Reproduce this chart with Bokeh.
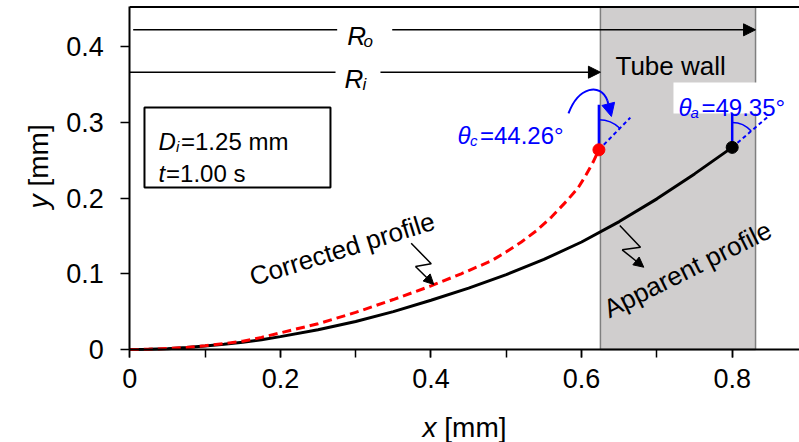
import math
from bokeh.plotting import figure
from bokeh.models import (Range1d, BoxAnnotation, Label, Arrow, NormalHead, LinearAxis,
                          SingleIntervalTicker, CustomJSTickFormatter)
from bokeh.embed import file_html
from bokeh.resources import INLINE

# ---------------- data ----------------
apparent_x = [0, 0.025, 0.05, 0.075, 0.1, 0.125, 0.15, 0.175, 0.2, 0.25, 0.3, 0.35, 0.4, 0.45,
              0.5, 0.55, 0.6, 0.65, 0.7, 0.75, 0.8]
apparent_y = [0, 0.0003, 0.0011, 0.0025, 0.0045, 0.0068, 0.0095, 0.0130, 0.0170, 0.026, 0.037,
              0.050, 0.065, 0.081, 0.099, 0.119, 0.142, 0.169, 0.199, 0.232, 0.267]

corrected_x = [0, 0.025, 0.05, 0.075, 0.1, 0.125, 0.15, 0.175, 0.2, 0.25, 0.3, 0.35, 0.4, 0.44,
               0.48, 0.50, 0.52, 0.54, 0.56, 0.58, 0.595, 0.605, 0.615, 0.623]
corrected_y = [0, 0.0003, 0.0012, 0.0027, 0.0050, 0.0078, 0.011, 0.016, 0.022, 0.034, 0.049,
               0.066, 0.084, 0.100, 0.117, 0.129, 0.142, 0.157, 0.175, 0.196, 0.213, 0.229,
               0.247, 0.2638]

wall_inner = 0.625   # R_i
wall_outer = 0.831   # R_o
contact_angles = [44.26, 49.35]          # theta_c, theta_a
angle_labels = ["=44.26°", "=49.35°"]
param_lines = ["=1.25 mm", "=1.00 s"]
x_ticks_interval = 0.2
y_ticks_interval = 0.1

FONT = "Liberation Sans"
BLUE = "#0000ff"
XMAX, YTOP = 0.8894, 0.4525

p = figure(width=799, height=442, min_border=0,
           x_range=Range1d(-0.17171, 0.88938), y_range=Range1d(-0.12285, 0.46103),
           x_axis_type=None, y_axis_type=None,
           output_backend="svg", toolbar_location=None)
p.outline_line_color = None
p.background_fill_color = "white"
p.border_fill_color = "white"

fmt = CustomJSTickFormatter(code="return Math.abs(tick) < 1e-9 ? '0' : tick.toFixed(1);")
common = dict(axis_line_width=2, axis_line_color="black", major_tick_line_color="black",
              major_tick_line_width=1.5, major_tick_in=0, major_label_text_font=FONT,
              major_label_text_font_size="27px", major_label_text_color="black",
              formatter=fmt, fixed_location=0)

xaxis = LinearAxis(ticker=SingleIntervalTicker(interval=x_ticks_interval, num_minor_ticks=2),
                   bounds=(0, XMAX), major_tick_out=8, minor_tick_out=8, minor_tick_in=0,
                   minor_tick_line_color="black", minor_tick_line_width=1.5,
                   major_label_standoff=11, **common)
p.add_layout(xaxis, "below")
yaxis = LinearAxis(ticker=SingleIntervalTicker(interval=y_ticks_interval, num_minor_ticks=0),
                   bounds=(0, YTOP), major_tick_out=9, minor_tick_line_color=None,
                   major_label_standoff=17, **common)
p.add_layout(yaxis, "left")

# top border of the plot box
p.segment([0], [YTOP], [XMAX], [YTOP], line_color="black", line_width=2)

# tube wall
p.add_layout(BoxAnnotation(left=wall_inner, right=wall_outer, bottom=0, top=YTOP,
                           fill_color="#d0cece", fill_alpha=1,
                           line_color="#7f7f7f", line_alpha=1, line_width=1.5, level="underlay"))

# profiles
p.line(apparent_x, apparent_y, line_color="black", line_width=3)
p.line(corrected_x, corrected_y, line_color="#ff0000", line_width=3, line_dash="9 5")

# contact-angle constructions
SX, SY = 753.0, 757.0   # px per data unit
ends = [(corrected_x[-1], corrected_y[-1]), (apparent_x[-1], apparent_y[-1])]
vert_len = [45, 34]
tan_len = [45, 48]
arc_r = [30, 25]
for (xe, ye), th, vl, tl, r in zip(ends, contact_angles, vert_len, tan_len, arc_r):
    p.segment([xe], [ye], [xe], [ye + vl / SY], line_color=BLUE, line_width=2.5)
    t = math.radians(th)
    p.segment([xe], [ye], [xe + tl * math.sin(t) / SX], [ye + tl * math.cos(t) / SY],
              line_color=BLUE, line_width=2, line_dash="4 3")
    p.arc(x=[xe], y=[ye], radius=r, radius_units="screen",
          start_angle=math.radians(90 - th), end_angle=math.radians(90),
          line_color=BLUE, line_width=1.5)

p.scatter([corrected_x[-1]], [corrected_y[-1]], size=12, fill_color="#ff0000", line_color="#ff0000")
p.scatter([apparent_x[-1]], [apparent_y[-1]], size=12, fill_color="black", line_color="black")


def lab(x, y, text, size, italic=False, color="black", align="left", angle=0):
    p.add_layout(Label(x=x, y=y, text=text, text_font=FONT, text_font_size=f"{size}px",
                       text_font_style="italic" if italic else "normal", text_color=color,
                       text_align=align, text_baseline="alphabetic",
                       angle=math.radians(angle)))


# R_o / R_i arrows
p.segment([0.0045], [0.4223], [0.2754], [0.4223], line_color="black", line_width=1.5)
p.add_layout(Arrow(end=NormalHead(size=12, fill_color="black", line_color="black"),
                   x_start=0.3485, y_start=0.4223, x_end=wall_outer, y_end=0.4223,
                   line_color="black", line_width=1.5))
p.segment([0.0], [0.3663], [0.2732], [0.3663], line_color="black", line_width=1.5)
p.add_layout(Arrow(end=NormalHead(size=12, fill_color="black", line_color="black"),
                   x_start=0.3329, y_start=0.3663, x_end=wall_inner, y_end=0.3663,
                   line_color="black", line_width=1.5))
lab(0.2887, 0.4135, "R", 26, italic=True)
lab(0.3104, 0.4069, "o", 17, italic=True)
lab(0.2851, 0.3567, "R", 26, italic=True)
lab(0.3090, 0.3501, "i", 17, italic=True)

lab(0.645, 0.375, "Tube wall", 26)

# parameter box
p.add_layout(BoxAnnotation(left=0.0195, right=0.2665, bottom=0.2140, top=0.3197,
                           fill_color="white", fill_alpha=1, line_color="black",
                           line_alpha=1, line_width=2))
lab(0.0381, 0.2748, "D", 24, italic=True)
lab(0.0614, 0.2682, "i", 15, italic=True)
lab(0.0680, 0.2748, param_lines[0], 24)
lab(0.0381, 0.2325, "t", 24, italic=True)
lab(0.0481, 0.2325, param_lines[1], 24)

# theta_c label + curved arrow
lab(0.4352, 0.2827, "θ", 24, italic=True, color=BLUE)
lab(0.4518, 0.2761, "c", 15, italic=True, color=BLUE)
lab(0.4650, 0.2827, angle_labels[0], 24, color=BLUE)
p.bezier(x0=[0.5826], y0=[0.3118], x1=[0.6343], y1=[0.3289],
         cx0=[0.5959], cy0=[0.3474], cx1=[0.6251], cy1=[0.3527], line_color=BLUE, line_width=2)
p.add_layout(Arrow(end=NormalHead(size=13, fill_color=BLUE, line_color=BLUE),
                   x_start=0.6343, y_start=0.3289, x_end=0.6396, y_end=0.3078,
                   line_color=BLUE, line_width=2))

# theta_a label on white box
p.add_layout(BoxAnnotation(left=0.722, right=0.8814, bottom=0.3118, top=0.3527,
                           fill_color="white", fill_alpha=1, line_color=None))
lab(0.7287, 0.3197, "θ", 24, italic=True, color=BLUE)
lab(0.7446, 0.3131, "a", 15, italic=True, color=BLUE)
lab(0.7592, 0.3197, angle_labels[1], 24, color=BLUE)

# profile labels with zig-zag leaders
lab(0.160, 0.0951, "Corrected profile", 26, angle=17.3)
p.line([0.3737, 0.4003, 0.3794], [0.1404, 0.1132, 0.1096], line_color="black", line_width=1.5)
p.add_layout(Arrow(end=NormalHead(size=10, fill_color="black", line_color="black"),
                   x_start=0.3794, y_start=0.1096, x_end=0.4037, y_end=0.0859,
                   line_color="black", line_width=1.5))
lab(0.6317, 0.0515, "Apparent profile", 26, angle=26.6)
p.line([0.6507, 0.6782, 0.6539], [0.1638, 0.1351, 0.1317], line_color="black", line_width=1.5)
p.add_layout(Arrow(end=NormalHead(size=10, fill_color="black", line_color="black"),
                   x_start=0.6539, y_start=0.1317, x_end=0.6826, y_end=0.1087,
                   line_color="black", line_width=1.5))

# axis titles
lab(0.3887, -0.103, "x", 28, italic=True)
lab(0.4177, -0.103, "[mm]", 28)
lab(-0.1212, 0.1863, "y", 28, italic=True, angle=90)
lab(-0.1212, 0.2153, "[mm]", 28, angle=90)

open("out.html", "w").write(file_html(p, INLINE))
